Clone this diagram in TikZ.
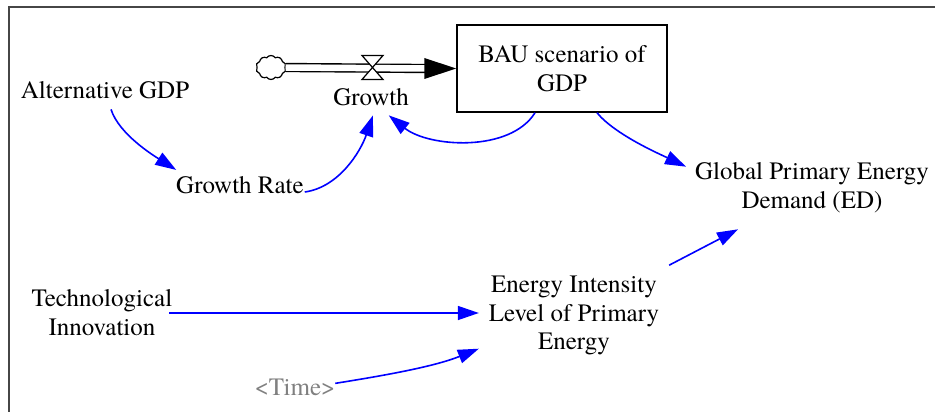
\documentclass[tikz,border=0pt]{standalone}
\usepackage{fontspec}
\setmainfont{texgyretermes}[Extension=.otf,UprightFont=*-regular,BoldFont=*-bold,ItalicFont=*-italic,BoldItalicFont=*-bolditalic]
\usetikzlibrary{arrows.meta,shapes.symbols,calc}
\definecolor{linkblue}{RGB}{0,0,255}
\definecolor{timegray}{RGB}{128,128,128}
\definecolor{framecol}{RGB}{70,70,70}
\tikzset{
  lbl/.style={inner sep=0pt, outer sep=0pt, font=\rmfamily\fontsize{25}{28.5}\selectfont, align=center},
  link/.style={draw=linkblue, line width=1.6pt, -{Triangle[length=21pt,width=14pt]}},
  stockbox/.style={draw, line width=1.5pt, minimum width=210pt, minimum height=87pt, inner sep=0pt, font=\rmfamily\fontsize{25}{28.5}\selectfont, align=center},
  pipe/.style={double, double distance=6.5pt, line width=1.4pt},
}
\begin{document}
\begin{tikzpicture}[x=1pt,y=-1pt]
\useasboundingbox (0,0) rectangle (935,412);
\draw[framecol, line width=1.2pt] (935,7) -- (9,7) -- (9,412);

\node[lbl, anchor=base] (alt) at (105,99) {Alternative GDP};
\node[lbl, anchor=base] (rate) at (240,193) {Growth Rate};
\node[lbl, anchor=base] (growth) at (371,106) {Growth};
\node[stockbox] (bau) at (562,68.5) {BAU scenario of\\GDP};
\node[lbl] (ged) at (812,187.7) {Global Primary Energy\\Demand (ED)};
\node[lbl] (tech) at (102,312.5) {Technological\\Innovation};
\node[lbl] (ei) at (574,315.7) {Energy Intensity\\Level of Primary\\Energy};
\node[lbl, anchor=base, text=timegray] (time) at (295,395) {<Time>};

\node[cloud, draw, cloud puffs=10, cloud puff arc=110, aspect=1.2, minimum width=30pt, minimum height=24pt, inner sep=0pt, line width=1.2pt] (src) at (271,67.5) {};
\coordinate (valve) at (372.5,67.5);

\draw[pipe] (src.east) -- ($(bau.west)+(-31,0)$);
\fill (bau.west) -- ++(-32,-10.5) -- ++(0,21) -- cycle;
\filldraw[fill=white, line width=1.2pt] ($(valve)+(-10.5,-12)$) -- ++(21,0) -- ++(-21,24) -- ++(21,0) -- cycle;

\draw[link] ($(alt.south)+(6,10)$) .. controls +(8,25) and +(-22,-14) .. ($(rate.north west)+(0,-6)$);
\draw[link] ($(rate.base east)+(1,-1)$) .. controls +(35,-5) and +(-12,35) .. ($(growth.south)+(2,9)$);
\draw[link] ($(bau.south)+(-27,0)$) .. controls +(-25,40) and +(40,32) .. ($(growth.south east)+(-20,9)$);
\draw[link] ($(bau.south)+(35,0)$) .. controls +(18,22) and +(-25,-12) .. ($(ged.north west)+(-9,4)$);
\draw[link] ($(ei.north east)+(10,-11)$) -- ($(ged.south west)+(43,16.6)$);
\draw[link] ($(tech.east)+(-3,0.5)$) -- ($(tech.east -| ei.west)+(-10,0.5)$);
\draw[link] ($(time.east)+(0,-3.5)$) .. controls +(50,-8) and +(-45,18) .. ($(ei.west)+(-10,33)$);
\end{tikzpicture}
\end{document}
